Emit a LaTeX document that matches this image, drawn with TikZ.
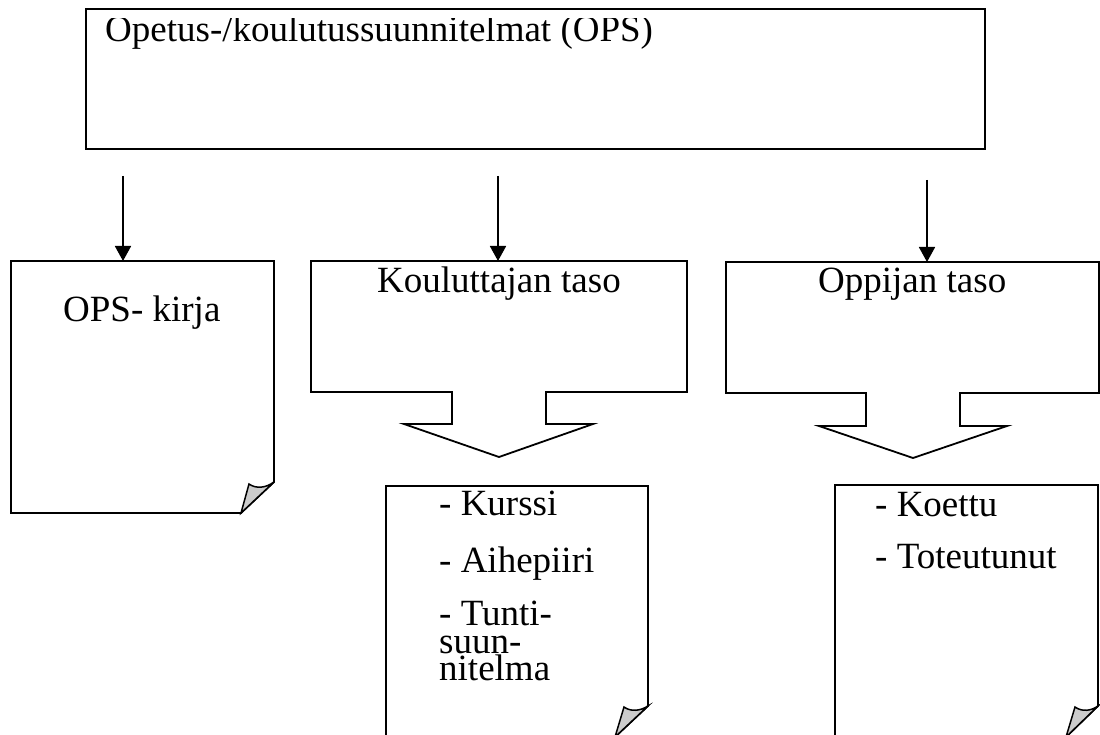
\documentclass[tikz,border=0pt]{standalone}
\usepackage{fontspec}
\setmainfont{Liberation Serif}
\usetikzlibrary{arrows.meta}
\tikzset{
  line/.style={line width=1.8pt, line join=miter},
  arr/.style={line width=1.8pt, -{Triangle[width=16pt,length=15pt]}},
  flap/.style={line width=1.5pt, fill=gray!40},
  txt/.style={anchor=base west, inner sep=0pt, font=\fontsize{37}{40}\selectfont}
}
\begin{document}
\begin{tikzpicture}[x=1pt, y=-1pt]
\useasboundingbox (0,0) rectangle (1100,735);
% top box
\draw[line] (86,9) rectangle (985,149);
% arrows down
\coordinate (a1) at (123,176); \coordinate (kirjatop) at (123,261);
\coordinate (a2) at (498,176); \coordinate (koultop) at (498,261);
\coordinate (a3) at (927,180); \coordinate (oppitop) at (927,262);
\draw[arr] (a1) -- (kirjatop);
\draw[arr] (a2) -- (koultop);
\draw[arr] (a3) -- (oppitop);
% OPS- kirja document
\draw[line] (11,261) -- (274,261) -- (274,482) -- (241,513) -- (11,513) -- cycle;
\draw[flap] (241,513) -- (249,484) .. controls (256,489) and (266,488) .. (274,482) -- cycle;
% callouts
\draw[line] (311,261) -- (687,261) -- (687,392) -- (546,392) -- (546,424) -- (593,424)
  -- (499,457) -- (404,424) -- (452,424) -- (452,392) -- (311,392) -- cycle;
\draw[line] (726,262) -- (1099,262) -- (1099,393) -- (960,393) -- (960,426) -- (1007,426)
  -- (913,458) -- (819,426) -- (866,426) -- (866,393) -- (726,393) -- cycle;
% lower documents
\draw[line] (386,486) -- (648,486) -- (648,706) -- (615,737) -- (386,737) -- cycle;
\draw[flap] (615,737) -- (624,707) .. controls (631,712) and (640,711) .. (648,706) -- cycle;
\draw[line] (835,485) -- (1098,485) -- (1098,706) -- (1066,737) -- (835,737) -- cycle;
\draw[flap] (1066,737) -- (1075,707) .. controls (1082,712) and (1091,711) .. (1098,706) -- cycle;
% texts (clipped by their boxes)
\begin{scope}
\clip (86,18) rectangle (985,149) (11,261) rectangle (274,513) (311,261) rectangle (687,392)
  (726,262) rectangle (1099,393) (386,486) rectangle (648,737) (835,485) rectangle (1098,737);
\node[txt] (ops) at (105,42) {Opetus-/koulutussuunnitelmat (OPS)};
\node[txt] (kirja) at (63,321) {OPS- kirja};
\node[txt] (koul) at (377,293) {Kouluttajan taso};
\node[txt] (oppi) at (818,293) {Oppijan taso};
\node[txt] (kurssi) at (439,515) {- Kurssi};
\node[txt] (aihe) at (439,572) {- Aihepiiri};
\node[txt] (tunti) at (439,625) {- Tunti-};
\node[txt] (suun) at (439,653) {suun-};
\node[txt] (nitelma) at (439,680) {nitelma};
\node[txt] (koettu) at (875,516) {- Koettu};
\node[txt] (tot) at (875,568) {- Toteutunut};
\end{scope}
\end{tikzpicture}
\end{document}
